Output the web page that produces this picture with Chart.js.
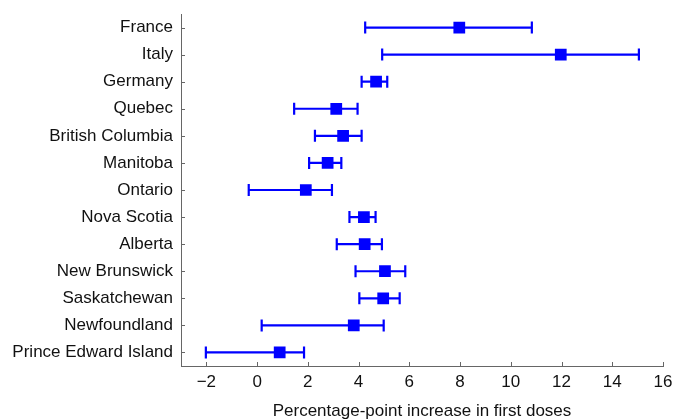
<!DOCTYPE html>
<html>
<head>
<meta charset="utf-8">
<script src="https://cdn.jsdelivr.net/npm/chart.js@4/dist/chart.umd.min.js"></script>
<style>
  html, body { margin: 0; padding: 0; background: #fff; }
  #wrap { width: 673px; height: 419px; }
</style>
</head>
<body>
<div id="wrap"><canvas id="grafica"></canvas></div>
<script>
// Regiones y estimaciones (puntos porcentuales)
const regiones = ['France', 'Italy', 'Germany', 'Quebec', 'British Columbia', 'Manitoba', 'Ontario',
    'Nova Scotia', 'Alberta', 'New Brunswick', 'Saskatchewan', 'Newfoundland', 'Prince Edward Island'];
const estimacion = [7.97, 11.97, 4.69, 3.12, 3.39, 2.78, 1.92, 4.21, 4.24, 5.04, 4.97, 3.81, 0.89];
const limiteInf = [4.26, 4.93, 4.12, 1.46, 2.28, 2.05, -0.33, 3.64, 3.14, 3.88, 4.03, 0.18, -2.02];
const limiteSup = [10.83, 15.05, 5.13, 3.96, 4.12, 3.32, 2.95, 4.67, 4.92, 5.84, 5.62, 4.99, 1.85];
const marcasX = [-2, 0, 2, 4, 6, 8, 10, 12, 14, 16];

const AZUL = '#0000ff';
const EJE = '#666666';
const FUENTE = "'Liberation Sans', Arial, Helvetica, sans-serif";

// Barras de error con remates, dibujadas bajo los cuadrados
const barrasError = {
    id: 'barrasError',
    beforeDatasetsDraw(chart) {
        const { ctx, scales: { x, y } } = chart;
        ctx.save();
        ctx.strokeStyle = AZUL;
        ctx.lineWidth = 2.2;
        regiones.forEach((r, i) => {
            const py = y.getPixelForValue(i);
            const x0 = x.getPixelForValue(limiteInf[i]);
            const x1 = x.getPixelForValue(limiteSup[i]);
            ctx.beginPath();
            ctx.moveTo(x0, py); ctx.lineTo(x1, py);
            ctx.moveTo(x0, py - 6); ctx.lineTo(x0, py + 6);
            ctx.moveTo(x1, py - 6); ctx.lineTo(x1, py + 6);
            ctx.stroke();
        });
        ctx.restore();
    }
};

// Marcas de los ejes hacia dentro
const marcasInternas = {
    id: 'marcasInternas',
    afterDraw(chart) {
        const { ctx, chartArea: a, scales: { x, y } } = chart;
        ctx.save();
        ctx.strokeStyle = EJE;
        ctx.lineWidth = 1;
        ctx.beginPath();
        regiones.forEach((r, i) => {
            const py = Math.round(y.getPixelForValue(i)) + 0.5;
            ctx.moveTo(a.left, py); ctx.lineTo(a.left + 4, py);
        });
        marcasX.forEach(v => {
            const px = Math.round(x.getPixelForValue(v)) + 0.5;
            ctx.moveTo(px, a.bottom); ctx.lineTo(px, a.bottom - 4);
        });
        ctx.stroke();
        ctx.restore();
    }
};

new Chart(document.getElementById('grafica'), {
    type: 'line',
    data: {
        labels: regiones,
        datasets: [{
            data: estimacion,
            showLine: false,
            pointStyle: 'rect',
            pointRadius: 8.3,
            pointHoverRadius: 8.3,
            pointBackgroundColor: AZUL,
            pointBorderColor: AZUL,
            pointBorderWidth: 0
        }]
    },
    plugins: [barrasError, marcasInternas],
    options: {
        indexAxis: 'y',
        responsive: true,
        maintainAspectRatio: false,
        animation: false,
        layout: { padding: { top: 14, right: 10, left: 0, bottom: 0 } },
        plugins: { legend: { display: false }, tooltip: { enabled: false } },
        scales: {
            x: {
                type: 'linear',
                min: -3,
                max: 16,
                afterBuildTicks: s => { s.ticks = marcasX.map(v => ({ value: v })); },
                afterFit: s => { s.height = 53; s.paddingLeft = 0; s.paddingRight = 0; },
                grid: { display: false, drawTicks: false },
                border: { display: true, color: EJE, width: 1 },
                ticks: {
                    padding: 6,
                    color: '#111',
                    font: { family: FUENTE, size: 17 },
                    maxRotation: 0,
                    callback: v => v < 0 ? '\u2212' + Math.abs(v) : String(v)
                },
                title: {
                    display: true,
                    text: 'Percentage-point increase in first doses',
                    color: '#111',
                    font: { family: FUENTE, size: 17 },
                    padding: { top: 0, bottom: -3 }
                }
            },
            y: {
                type: 'category',
                offset: true,
                afterFit: s => { s.width = 181; s.paddingTop = 0; s.paddingBottom = 0; },
                grid: { display: false, drawTicks: false },
                border: { display: true, color: EJE, width: 1 },
                ticks: {
                    padding: 8,
                    color: '#111',
                    font: { family: FUENTE, size: 17 }
                }
            }
        }
    }
});
</script>
</body>
</html>
